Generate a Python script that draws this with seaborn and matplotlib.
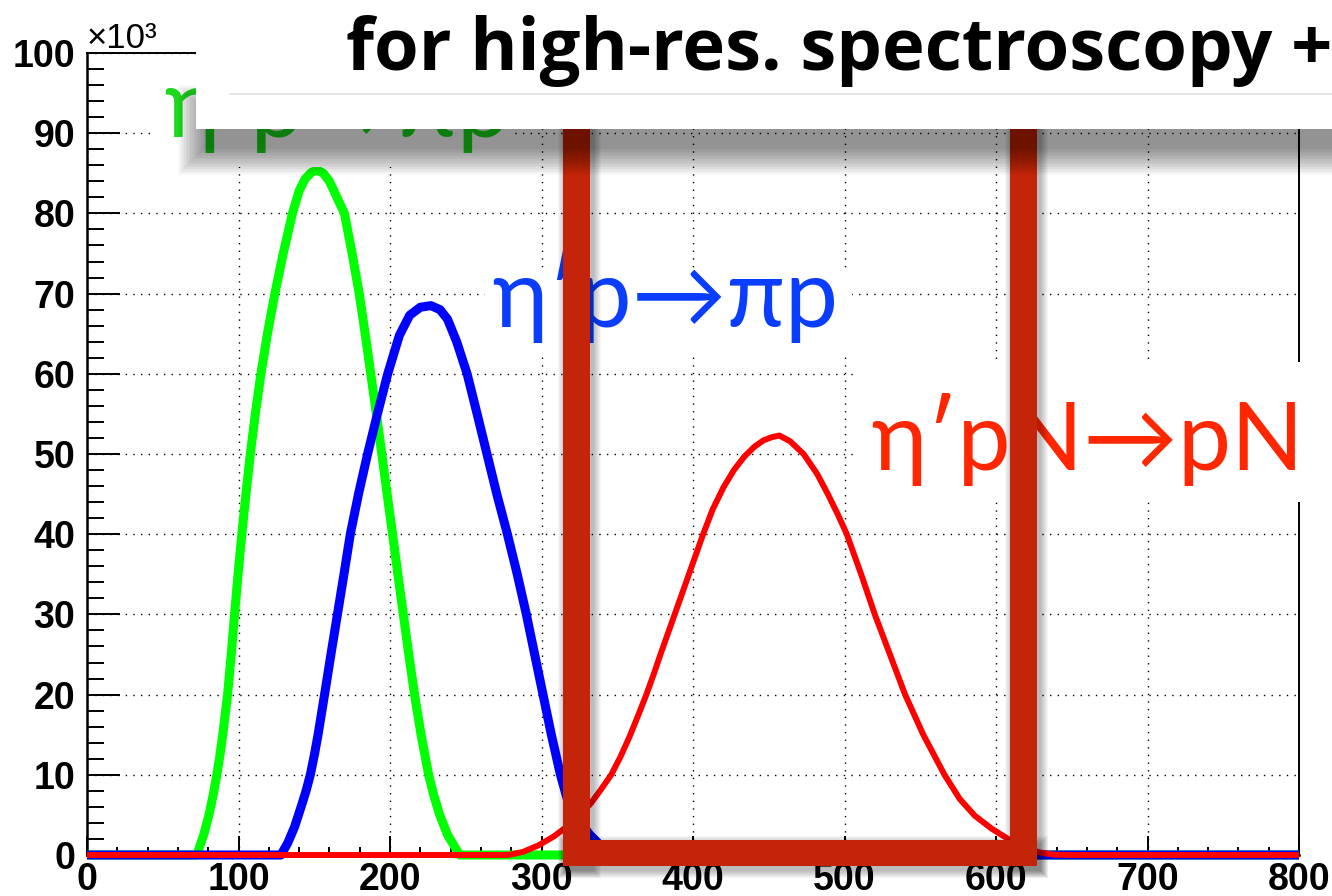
import matplotlib
matplotlib.use("Agg")
import matplotlib.pyplot as plt
import seaborn as sns
import pandas as pd
from matplotlib.patches import Rectangle
from matplotlib.lines import Line2D
from matplotlib.ticker import MultipleLocator, FuncFormatter

# ---------------- data (x, counts in units of 10^3) ----------------
green_x = [0, 72.5, 77, 80.5, 83.3, 85.7, 87.8, 89.6, 92.8, 95.2, 97.4, 99.7, 102.2, 104.9, 107.8,
           111.1, 114.8, 119.1, 124, 129.5, 135.6, 140, 144, 148, 152, 156, 160, 164, 169.9,
           175, 179.7, 183.6, 187.3, 191, 194.6, 198.1, 201.7, 205.2, 208.8, 212.4, 216.2,
           220.5, 225.5, 228.8, 232.8, 238, 246, 800]
green_y = [0, 0, 2.5, 5, 7.5, 10, 12.5, 15, 20, 25, 30, 35, 40, 45, 50,
           55, 60, 65, 70, 75, 80, 82.8, 84.3, 85.1, 85.4, 85, 84, 82.4, 80,
           75, 70, 65, 60, 55, 50, 45, 40, 35, 30, 25, 20,
           15, 10, 7.5, 5, 2.5, 0, 0]

blue_x = [0, 128, 132.5, 137, 141.3, 144.6, 147.4, 150.1, 152.5, 156.8, 161, 165.3, 169.6, 173.8,
          179.2, 185.2, 191.7, 198.5, 206.2, 213, 220, 227, 233, 238, 244, 250.9, 257.5, 264,
          270.5, 277.5, 284, 290, 295.5, 301, 306.5, 312.5, 317, 324, 332, 340, 348, 800]
blue_y = [0, 0, 1.5, 3.5, 6, 8, 10, 12.5, 15, 20, 25, 30, 35, 40,
          45, 50, 55, 60, 64.8, 67.3, 68.3, 68.5, 68, 66.8, 64, 60, 55, 50,
          45, 40, 35, 30, 25, 20, 15, 10, 7, 4.5, 2.5, 1, 0, 0]

red_x = [0, 278, 288, 298, 308, 318, 325, 332.8, 339, 346, 352, 358, 364, 369.2, 374, 378.5,
         387.9, 397.3, 406.7, 413, 420, 427, 434, 440.5, 446.5, 452, 457, 464, 473, 482, 489,
         495.5, 501.5, 511, 520, 530, 540, 552, 566, 576, 586, 597, 608, 618, 628, 638, 648, 800]
red_y = [0, 0, 0.4, 1.2, 2.3, 3.7, 4.9, 6.5, 8.1, 10, 12.2, 14.7, 17.5, 20, 22.5, 25,
         30, 35, 40, 43.1, 45.8, 48, 49.7, 50.9, 51.7, 52.1, 52.3, 51.6, 50, 47.5, 45,
         42.5, 40, 35, 30, 25, 20, 15, 10, 7, 4.9, 3.3, 2, 1, 0.35, 0.05, 0, 0]

x_limits = (0, 800)
y_limits = (0, 100)
label_green = "η′p→πp"
label_blue = "η′p→πp"
label_red = "η′pN→pN"
title_text = "for high-res. spectroscopy +"
scale_text = "×10³"

# ---------------- figure ----------------
W, H, DPI = 1332, 896, 100
plt.rcParams["font.family"] = ["Liberation Sans", "DejaVu Sans"]
plt.rcParams["text.color"] = "black"

fig = plt.figure(figsize=(W / DPI, H / DPI), dpi=DPI)
fig.patch.set_facecolor("white")


def fx(px):
    return px / W


def fy(py):
    return 1 - py / H


ax = fig.add_axes([fx(87), fy(855), (1299 - 87) / W, (855 - 53) / H])
ax.set_facecolor("white")


def draw_series(xs, ys, color, lw):
    df = pd.DataFrame({"x": xs, "y": ys})
    sns.lineplot(data=df, x="x", y="y", ax=ax, color=color, linewidth=lw,
                 estimator=None, sort=False)
    ln = ax.lines[-1]
    ln.set_clip_on(False)
    ln.set_solid_joinstyle("round")
    ln.set_solid_capstyle("butt")
    ln.set_zorder(3)


draw_series(green_x, green_y, "#00ff00", 6.5)
draw_series(blue_x, blue_y, "#0000ff", 6.5)
draw_series(red_x, red_y, "#ff0000", 4.3)

ax.set_xlim(*x_limits)
ax.set_ylim(*y_limits)
ax.set_xlabel("")
ax.set_ylabel("")

ax.xaxis.set_major_locator(MultipleLocator(100))
ax.xaxis.set_minor_locator(MultipleLocator(20))
ax.yaxis.set_major_locator(MultipleLocator(10))
ax.yaxis.set_minor_locator(MultipleLocator(2))
ax.yaxis.set_major_formatter(FuncFormatter(lambda v, p: f"{v:g}"))
ax.xaxis.set_major_formatter(FuncFormatter(lambda v, p: f"{v:g}"))

ax.tick_params(axis="y", which="major", direction="in", length=24, width=1.4,
               pad=8.5, labelsize=27, color="black", labelcolor="black")
ax.tick_params(axis="y", which="minor", direction="in", length=12, width=1.4, color="black")
ax.tick_params(axis="x", which="major", direction="in", length=14, width=1.4,
               pad=5, labelsize=27, color="black", labelcolor="black")
ax.tick_params(axis="x", which="minor", direction="in", length=6, width=1.4, color="black")
ax.tick_params(top=False, right=False, which="both")
for lbl in ax.get_xticklabels() + ax.get_yticklabels():
    lbl.set_fontweight("bold")

ax.grid(True, which="major", color="black", linestyle=(0, (1, 4.5)), linewidth=1.0)
ax.set_axisbelow(True)
for side, lw in (("left", 1.8), ("bottom", 1.8), ("top", 1.4), ("right", 1.4)):
    ax.spines[side].set_color("black")
    ax.spines[side].set_linewidth(lw)

fig.text(fx(87), fy(48), scale_text, fontsize=25, ha="left", va="baseline",
         family=["Liberation Sans", "DejaVu Sans"], zorder=2)

renderer = fig.canvas.get_renderer()


def fit_width(t, target_px):
    fs = t.get_fontsize()
    for _ in range(3):
        w = t.get_window_extent(renderer).width
        fs = fs * target_px / w
        t.set_fontsize(fs)
    return fs


def prect(x0, y0, x1, y1, color, z, alpha=1.0):
    r = Rectangle((fx(x0), fy(y1)), (x1 - x0) / W, (y1 - y0) / H,
                  transform=fig.transFigure, facecolor=color, edgecolor="none",
                  alpha=alpha, zorder=z)
    fig.patches.append(r)
    return r


def pshadow(x0, y0, x1, y1, dx, dy, blur, n, total_alpha, z):
    a = 1 - (1 - total_alpha) ** (1.0 / n)
    for i in range(n):
        s = blur * (i + 1) / n
        prect(x0 + dx - s, y0 + dy - s, x1 + dx + s, y1 + dy + s, "black", z, alpha=a)


# label backgrounds
prect(155, 60, 515, 167, "white", 1.5)
prect(485, 268, 852, 357, "white", 1.5)
prect(857, 362, 1340, 502, "white", 1.5)

lab_font = ["Lato", "Open Sans", "DejaVu Sans"]
t_blue = fig.text(fx(492), fy(327), label_blue, color="#0b3dff", fontsize=72,
                  family=lab_font, weight="normal", ha="left", va="baseline", zorder=2)
fs_lab = fit_width(t_blue, 346)
t_green = fig.text(fx(164), fy(137), label_green, color="#1ed71e", fontsize=fs_lab,
                   family=lab_font, weight="normal", ha="left", va="baseline", zorder=2)
t_red = fig.text(fx(871), fy(470), label_red, color="#ff2600", fontsize=fs_lab,
                 family=lab_font, weight="normal", ha="left", va="baseline", zorder=2)

# dark red frame with soft shadow
frame_col = "#c3240a"
bars = [(563, 100, 590, 866), (1010, 100, 1037, 866), (563, 840, 1037, 866)]
for b in bars:
    pshadow(*b, 3, 4, 8, 8, 0.25, 3)
for b in bars:
    prect(*b, frame_col, 4)

# top white box with drop shadow (shadow mostly below the box)
pshadow(206, 95, 1400, 129, 0, 18, 28, 18, 0.40, 5)
prect(196, -40, 1400, 129, "white", 6)
fig.lines.append(Line2D([fx(230), fx(1332)], [fy(94.5), fy(94.5)], transform=fig.transFigure,
                        color="#e2e2e2", linewidth=1.2, zorder=7))

t_title = fig.text(fx(346), fy(70), title_text, color="black", fontsize=50,
                   family=["Open Sans", "DejaVu Sans"], weight="bold",
                   ha="left", va="baseline", zorder=8)
fit_width(t_title, 986)

fig.savefig("out.png", dpi=DPI, facecolor="white")
